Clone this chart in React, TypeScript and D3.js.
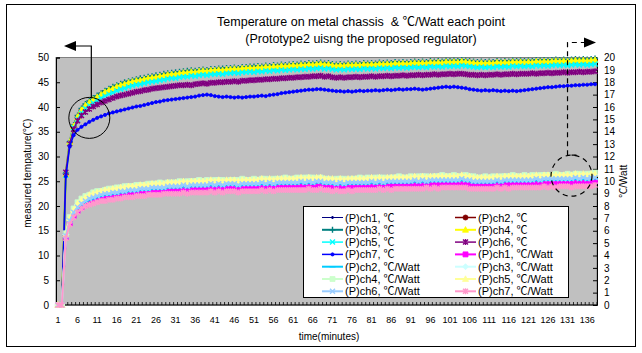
import React, { useEffect, useRef } from 'react';
import * as d3 from 'd3';

// minutes on the category axis
const minutes = Array.from({ length: 138 }, (_, i) => i + 1);
const leftTicks = [0, 5, 10, 15, 20, 25, 30, 35, 40, 45, 50];
const rightTicks = [0, 1, 2, 3, 4, 5, 6, 7, 8, 9, 10, 11, 12, 13, 14, 15, 16, 17, 18, 19, 20];

// temperature series (left axis, ℃)
const p1C = [0, 0, 26.3, 32.7, 35.9, 37.7, 39.0, 39.9, 40.5, 41.1,
  41.6, 42.1, 42.6, 43.0, 43.3, 43.7, 44.0, 44.2, 44.5, 44.7,
  44.9, 45.0, 45.2, 45.4, 45.5, 45.6, 45.8, 45.9, 46.1, 46.2,
  46.2, 46.4, 46.5, 46.5, 46.7, 46.6, 46.8, 46.9, 46.8, 47.0,
  47.0, 47.1, 47.0, 47.2, 47.2, 47.3, 47.2, 47.4, 47.4, 47.5,
  47.4, 47.6, 47.5, 47.7, 47.6, 47.8, 47.7, 47.9, 47.8, 47.9,
  48.0, 47.9, 48.1, 48.0, 48.2, 48.1, 48.2, 48.3, 48.1, 48.2,
  48.0, 47.9, 48.0, 47.9, 48.1, 48.0, 48.1, 48.0, 48.2, 48.1,
  48.2, 48.1, 48.3, 48.2, 48.3, 48.2, 48.4, 48.3, 48.4, 48.3,
  48.4, 48.5, 48.4, 48.5, 48.4, 48.6, 48.5, 48.6, 48.5, 48.7,
  48.6, 48.7, 48.6, 48.8, 48.7, 48.6, 48.5, 48.4, 48.5, 48.4,
  48.5, 48.4, 48.6, 48.5, 48.6, 48.5, 48.7, 48.6, 48.7, 48.6,
  48.7, 48.6, 48.8, 48.7, 48.8, 48.7, 48.8, 48.9, 48.8, 48.9,
  48.8, 48.9, 49.0, 48.9, 49.0, 48.9, 49.0, 49.1];
const p2C = [0, 0, 26.5, 32.8, 36.0, 37.9, 39.3, 40.2, 40.8, 41.4,
  41.9, 42.4, 42.9, 43.3, 43.6, 44.0, 44.3, 44.5, 44.8, 45.0,
  45.2, 45.3, 45.5, 45.7, 45.8, 45.9, 46.1, 46.2, 46.4, 46.5,
  46.5, 46.7, 46.8, 46.8, 47.0, 46.9, 47.1, 47.2, 47.1, 47.3,
  47.3, 47.4, 47.3, 47.5, 47.5, 47.6, 47.5, 47.7, 47.7, 47.8,
  47.7, 47.9, 47.8, 48.0, 47.9, 48.1, 48.0, 48.2, 48.1, 48.2,
  48.3, 48.2, 48.4, 48.3, 48.5, 48.4, 48.5, 48.6, 48.4, 48.5,
  48.3, 48.2, 48.3, 48.2, 48.4, 48.3, 48.4, 48.3, 48.5, 48.4,
  48.5, 48.4, 48.6, 48.5, 48.6, 48.5, 48.7, 48.6, 48.7, 48.6,
  48.7, 48.8, 48.7, 48.8, 48.7, 48.9, 48.8, 48.9, 48.8, 49.0,
  48.9, 49.0, 48.9, 49.1, 49.0, 48.9, 48.8, 48.7, 48.8, 48.7,
  48.8, 48.7, 48.9, 48.8, 48.9, 48.8, 49.0, 48.9, 49.0, 48.9,
  49.0, 48.9, 49.1, 49.0, 49.1, 49.0, 49.1, 49.2, 49.1, 49.2,
  49.1, 49.2, 49.3, 49.2, 49.3, 49.2, 49.3, 49.4];
const p3C = [0, 0, 26.6, 33.0, 36.3, 38.3, 39.7, 40.6, 41.2, 41.8,
  42.3, 42.8, 43.3, 43.7, 44.1, 44.4, 44.7, 45.0, 45.2, 45.4,
  45.6, 45.8, 45.9, 46.1, 46.2, 46.4, 46.5, 46.7, 46.8, 46.9,
  47.0, 47.1, 47.2, 47.3, 47.4, 47.3, 47.5, 47.6, 47.5, 47.7,
  47.7, 47.8, 47.8, 47.9, 47.9, 48.0, 47.9, 48.1, 48.1, 48.2,
  48.2, 48.3, 48.2, 48.4, 48.3, 48.5, 48.4, 48.6, 48.5, 48.6,
  48.7, 48.6, 48.8, 48.7, 48.9, 48.8, 48.9, 49.0, 48.8, 48.9,
  48.7, 48.6, 48.7, 48.6, 48.8, 48.7, 48.8, 48.7, 48.9, 48.8,
  48.9, 48.8, 49.0, 48.9, 49.0, 48.9, 49.1, 49.0, 49.1, 49.0,
  49.1, 49.2, 49.1, 49.2, 49.1, 49.3, 49.2, 49.3, 49.2, 49.4,
  49.3, 49.4, 49.3, 49.5, 49.4, 49.3, 49.2, 49.1, 49.2, 49.1,
  49.2, 49.1, 49.3, 49.2, 49.3, 49.2, 49.4, 49.3, 49.4, 49.3,
  49.4, 49.3, 49.5, 49.4, 49.5, 49.4, 49.5, 49.6, 49.5, 49.6,
  49.5, 49.6, 49.7, 49.6, 49.7, 49.6, 49.7, 49.8];
const p4C = [0, 0, 26.4, 32.9, 36.1, 38.0, 39.4, 40.3, 40.9, 41.5,
  42.0, 42.5, 43.0, 43.4, 43.7, 44.1, 44.4, 44.6, 44.9, 45.1,
  45.3, 45.4, 45.6, 45.8, 45.9, 46.0, 46.2, 46.3, 46.5, 46.6,
  46.6, 46.8, 46.9, 46.9, 47.1, 47.0, 47.2, 47.3, 47.2, 47.4,
  47.4, 47.5, 47.4, 47.6, 47.6, 47.7, 47.6, 47.8, 47.8, 47.9,
  47.8, 48.0, 47.9, 48.1, 48.0, 48.2, 48.1, 48.3, 48.2, 48.3,
  48.4, 48.3, 48.5, 48.4, 48.6, 48.5, 48.6, 48.7, 48.5, 48.6,
  48.4, 48.3, 48.4, 48.3, 48.5, 48.4, 48.5, 48.4, 48.6, 48.5,
  48.6, 48.5, 48.7, 48.6, 48.7, 48.6, 48.8, 48.7, 48.8, 48.7,
  48.8, 48.9, 48.8, 48.9, 48.8, 49.0, 48.9, 49.0, 48.9, 49.1,
  49.0, 49.1, 49.0, 49.2, 49.1, 49.0, 48.9, 48.8, 48.9, 48.8,
  48.9, 48.8, 49.0, 48.9, 49.0, 48.9, 49.1, 49.0, 49.1, 49.0,
  49.1, 49.0, 49.2, 49.1, 49.2, 49.1, 49.2, 49.3, 49.2, 49.3,
  49.2, 49.3, 49.4, 49.3, 49.4, 49.3, 49.4, 49.5];
const p5C = [0, 0, 26.2, 32.7, 35.8, 37.5, 38.8, 39.7, 40.3, 40.8,
  41.3, 41.8, 42.2, 42.6, 42.9, 43.3, 43.6, 43.8, 44.1, 44.3,
  44.5, 44.6, 44.8, 45.0, 45.1, 45.2, 45.4, 45.5, 45.7, 45.8,
  45.8, 46.0, 46.1, 46.1, 46.3, 46.2, 46.4, 46.5, 46.4, 46.6,
  46.6, 46.7, 46.6, 46.8, 46.8, 46.9, 46.8, 47.0, 47.0, 47.1,
  47.0, 47.2, 47.1, 47.3, 47.2, 47.4, 47.3, 47.5, 47.4, 47.5,
  47.6, 47.5, 47.7, 47.6, 47.8, 47.7, 47.8, 47.9, 47.7, 47.8,
  47.6, 47.5, 47.6, 47.5, 47.7, 47.6, 47.7, 47.6, 47.8, 47.7,
  47.8, 47.7, 47.9, 47.8, 47.9, 47.8, 48.0, 47.9, 48.0, 47.9,
  48.0, 48.1, 48.0, 48.1, 48.0, 48.2, 48.1, 48.2, 48.1, 48.3,
  48.2, 48.3, 48.2, 48.4, 48.3, 48.2, 48.1, 48.0, 48.1, 48.0,
  48.1, 48.0, 48.2, 48.1, 48.2, 48.1, 48.3, 48.2, 48.3, 48.2,
  48.3, 48.2, 48.4, 48.3, 48.4, 48.3, 48.4, 48.5, 48.4, 48.5,
  48.4, 48.5, 48.6, 48.5, 48.6, 48.5, 48.6, 48.7];
const p6C = [0, 0, 26.8, 32.6, 35.5, 37.2, 38.3, 39.0, 39.6, 40.1,
  40.5, 40.9, 41.2, 41.5, 41.8, 42.1, 42.3, 42.5, 42.7, 42.9,
  43.1, 43.2, 43.4, 43.5, 43.7, 43.8, 43.9, 44.0, 44.1, 44.2,
  44.3, 44.4, 44.4, 44.5, 44.4, 44.6, 44.7, 44.8, 44.7, 44.9,
  44.9, 45.0, 45.0, 45.1, 45.1, 45.2, 45.1, 45.3, 45.3, 45.4,
  45.4, 45.5, 45.5, 45.6, 45.6, 45.7, 45.7, 45.8, 45.8, 45.9,
  45.9, 46.0, 46.0, 46.1, 46.1, 46.2, 46.2, 46.3, 46.1, 46.2,
  46.0, 45.9, 46.0, 45.9, 46.0, 46.0, 46.1, 46.0, 46.1, 46.1,
  46.2, 46.1, 46.2, 46.2, 46.3, 46.2, 46.3, 46.3, 46.4, 46.3,
  46.4, 46.4, 46.5, 46.4, 46.5, 46.5, 46.6, 46.5, 46.6, 46.6,
  46.7, 46.6, 46.7, 46.7, 46.6, 46.5, 46.5, 46.4, 46.5, 46.4,
  46.5, 46.5, 46.6, 46.5, 46.6, 46.6, 46.7, 46.6, 46.7, 46.7,
  46.7, 46.8, 46.7, 46.8, 46.8, 46.9, 46.8, 46.9, 46.9, 47.0,
  46.9, 47.0, 47.0, 47.1, 47.0, 47.1, 47.1, 47.2];
const p7C = [0, 0, 26.0, 32.0, 34.3, 35.4, 36.0, 36.5, 37.0, 37.4,
  37.8, 38.1, 38.4, 38.7, 38.9, 39.1, 39.3, 39.5, 39.7, 39.9,
  40.1, 40.2, 40.4, 40.6, 40.8, 41.0, 41.1, 41.3, 41.4, 41.5,
  41.6, 41.7, 41.8, 41.9, 42.0, 42.1, 42.3, 42.4, 42.5, 42.4,
  42.2, 42.1, 42.0, 42.1, 42.0, 41.9, 42.0, 41.9, 42.0, 42.1,
  42.1, 42.2, 42.3, 42.2, 42.4, 42.5, 42.6, 42.8, 42.9, 43.0,
  43.1, 43.2, 43.3, 43.4, 43.5, 43.5, 43.6, 43.6, 43.5, 43.4,
  43.3, 43.2, 43.2, 43.1, 43.2, 43.1, 43.2, 43.3, 43.2, 43.3,
  43.3, 43.4, 43.3, 43.4, 43.5, 43.4, 43.5, 43.6, 43.5, 43.6,
  43.6, 43.7, 43.6, 43.5, 43.6, 43.7, 43.8, 43.9, 44.0, 44.1,
  44.0, 44.1, 44.0, 43.9, 43.8, 43.6, 43.5, 43.4, 43.3, 43.4,
  43.3, 43.4, 43.3, 43.2, 43.3, 43.2, 43.3, 43.2, 43.3, 43.4,
  43.5, 43.6, 43.7, 43.8, 43.9, 44.0, 44.0, 44.1, 44.2, 44.2,
  44.3, 44.3, 44.4, 44.4, 44.5, 44.5, 44.6, 44.6];

// ℃/Watt series (right axis)
const p1W = [0, 0, 5.5, 6.6, 7.2, 7.6, 7.9, 8.1, 8.3, 8.4,
  8.5, 8.6, 8.6, 8.7, 8.8, 8.8, 8.9, 8.9, 8.9, 9.0,
  9.0, 9.0, 9.1, 9.1, 9.1, 9.1, 9.2, 9.2, 9.2, 9.2,
  9.3, 9.3, 9.3, 9.3, 9.3, 9.4, 9.3, 9.4, 9.4, 9.4,
  9.4, 9.4, 9.4, 9.4, 9.5, 9.4, 9.5, 9.4, 9.5, 9.5,
  9.5, 9.5, 9.5, 9.5, 9.6, 9.5, 9.6, 9.5, 9.6, 9.6,
  9.6, 9.6, 9.6, 9.6, 9.7, 9.6, 9.6, 9.7, 9.6, 9.6,
  9.5, 9.6, 9.5, 9.6, 9.6, 9.6, 9.6, 9.6, 9.6, 9.6,
  9.6, 9.7, 9.6, 9.7, 9.6, 9.7, 9.7, 9.7, 9.7, 9.7,
  9.7, 9.7, 9.8, 9.7, 9.8, 9.7, 9.8, 9.8, 9.8, 9.8,
  9.8, 9.8, 9.8, 9.8, 9.8, 9.7, 9.7, 9.7, 9.7, 9.7,
  9.7, 9.7, 9.8, 9.7, 9.8, 9.8, 9.8, 9.8, 9.8, 9.8,
  9.8, 9.8, 9.9, 9.8, 9.9, 9.8, 9.9, 9.9, 9.9, 9.9,
  9.9, 9.9, 9.9, 9.9, 10.0, 9.9, 9.9, 10.0];
const p2W = [0, 0, 5.6, 6.7, 7.4, 7.8, 8.1, 8.3, 8.5, 8.6,
  8.7, 8.8, 8.9, 8.9, 9.0, 9.0, 9.1, 9.1, 9.2, 9.2,
  9.2, 9.3, 9.3, 9.3, 9.4, 9.4, 9.4, 9.4, 9.5, 9.5,
  9.5, 9.5, 9.6, 9.5, 9.6, 9.6, 9.6, 9.6, 9.6, 9.7,
  9.6, 9.7, 9.6, 9.7, 9.7, 9.7, 9.6, 9.7, 9.7, 9.7,
  9.7, 9.7, 9.8, 9.7, 9.8, 9.7, 9.8, 9.8, 9.8, 9.8,
  9.8, 9.8, 9.9, 9.8, 9.9, 9.8, 9.9, 9.9, 9.8, 9.8,
  9.8, 9.7, 9.8, 9.7, 9.8, 9.8, 9.8, 9.8, 9.8, 9.8,
  9.9, 9.8, 9.9, 9.8, 9.9, 9.9, 9.9, 9.9, 9.9, 9.9,
  9.9, 10.0, 9.9, 10.0, 9.9, 10.0, 10.0, 10.0, 10.0, 10.0,
  10.0, 10.0, 10.0, 10.1, 10.0, 10.0, 9.9, 9.9, 9.9, 9.9,
  9.9, 9.9, 10.0, 9.9, 10.0, 10.0, 10.0, 10.0, 10.0, 10.0,
  10.0, 10.0, 10.1, 10.0, 10.1, 10.1, 10.1, 10.1, 10.1, 10.1,
  10.1, 10.1, 10.2, 10.1, 10.2, 10.1, 10.2, 10.2];
const p3W = [0, 0, 5.7, 6.9, 7.6, 8.1, 8.4, 8.6, 8.8, 8.9,
  9.0, 9.1, 9.2, 9.2, 9.3, 9.3, 9.4, 9.4, 9.5, 9.5,
  9.5, 9.6, 9.6, 9.6, 9.7, 9.7, 9.7, 9.7, 9.8, 9.8,
  9.8, 9.8, 9.9, 9.8, 9.9, 9.9, 9.9, 9.9, 9.9, 10.0,
  9.9, 10.0, 9.9, 10.0, 10.0, 10.0, 9.9, 10.0, 10.0, 10.0,
  10.0, 10.0, 10.1, 10.0, 10.1, 10.0, 10.1, 10.1, 10.1, 10.1,
  10.1, 10.1, 10.2, 10.1, 10.2, 10.1, 10.2, 10.2, 10.1, 10.1,
  10.1, 10.0, 10.1, 10.0, 10.1, 10.1, 10.1, 10.1, 10.1, 10.1,
  10.2, 10.1, 10.2, 10.1, 10.2, 10.2, 10.2, 10.2, 10.2, 10.2,
  10.2, 10.3, 10.2, 10.3, 10.2, 10.3, 10.3, 10.3, 10.3, 10.3,
  10.3, 10.3, 10.3, 10.4, 10.3, 10.3, 10.2, 10.2, 10.2, 10.2,
  10.2, 10.2, 10.3, 10.2, 10.3, 10.3, 10.3, 10.3, 10.3, 10.3,
  10.3, 10.3, 10.4, 10.3, 10.4, 10.4, 10.4, 10.4, 10.4, 10.4,
  10.4, 10.4, 10.5, 10.4, 10.5, 10.4, 10.5, 10.5];
const p4W = [0, 0, 5.8, 7.1, 7.8, 8.3, 8.6, 8.8, 8.9, 9.1,
  9.2, 9.2, 9.3, 9.4, 9.4, 9.5, 9.5, 9.6, 9.6, 9.6,
  9.7, 9.7, 9.7, 9.8, 9.8, 9.8, 9.9, 9.8, 9.9, 9.9,
  9.9, 10.0, 9.9, 10.0, 10.0, 10.0, 10.1, 10.0, 10.1, 10.0,
  10.1, 10.1, 10.1, 10.0, 10.1, 10.1, 10.1, 10.2, 10.1, 10.1,
  10.2, 10.1, 10.2, 10.2, 10.1, 10.2, 10.2, 10.2, 10.3, 10.2,
  10.2, 10.3, 10.2, 10.3, 10.3, 10.3, 10.2, 10.3, 10.2, 10.2,
  10.1, 10.2, 10.2, 10.2, 10.1, 10.2, 10.2, 10.3, 10.2, 10.3,
  10.2, 10.3, 10.3, 10.3, 10.2, 10.3, 10.3, 10.4, 10.3, 10.3,
  10.4, 10.3, 10.4, 10.4, 10.4, 10.3, 10.4, 10.4, 10.5, 10.4,
  10.4, 10.5, 10.4, 10.4, 10.5, 10.4, 10.4, 10.3, 10.3, 10.4,
  10.3, 10.4, 10.3, 10.4, 10.4, 10.4, 10.5, 10.4, 10.4, 10.5,
  10.4, 10.5, 10.4, 10.5, 10.5, 10.5, 10.5, 10.6, 10.5, 10.5,
  10.6, 10.5, 10.6, 10.6, 10.5, 10.6, 10.6, 10.7];
const p5W = [0, 0, 5.7, 7.0, 7.7, 8.2, 8.5, 8.7, 8.9, 9.0,
  9.1, 9.2, 9.3, 9.3, 9.4, 9.4, 9.5, 9.5, 9.6, 9.6,
  9.6, 9.7, 9.7, 9.7, 9.8, 9.8, 9.8, 9.8, 9.9, 9.9,
  9.9, 9.9, 10.0, 9.9, 10.0, 10.0, 10.0, 10.0, 10.0, 10.1,
  10.0, 10.1, 10.0, 10.1, 10.1, 10.1, 10.0, 10.1, 10.1, 10.1,
  10.1, 10.1, 10.2, 10.1, 10.2, 10.1, 10.2, 10.2, 10.2, 10.2,
  10.2, 10.2, 10.3, 10.2, 10.3, 10.2, 10.3, 10.3, 10.2, 10.2,
  10.2, 10.1, 10.2, 10.1, 10.2, 10.2, 10.2, 10.2, 10.2, 10.2,
  10.3, 10.2, 10.3, 10.2, 10.3, 10.3, 10.3, 10.3, 10.3, 10.3,
  10.3, 10.4, 10.3, 10.4, 10.3, 10.4, 10.4, 10.4, 10.4, 10.4,
  10.4, 10.4, 10.4, 10.5, 10.4, 10.4, 10.3, 10.3, 10.3, 10.3,
  10.3, 10.3, 10.4, 10.3, 10.4, 10.4, 10.4, 10.4, 10.4, 10.4,
  10.4, 10.4, 10.5, 10.4, 10.5, 10.5, 10.5, 10.5, 10.5, 10.5,
  10.5, 10.5, 10.6, 10.5, 10.6, 10.5, 10.6, 10.6];
const p6W = [0, 0, 5.6, 6.8, 7.5, 7.9, 8.2, 8.4, 8.6, 8.7,
  8.8, 8.9, 9.0, 9.0, 9.1, 9.1, 9.2, 9.2, 9.3, 9.3,
  9.3, 9.4, 9.4, 9.4, 9.5, 9.5, 9.5, 9.5, 9.6, 9.6,
  9.6, 9.6, 9.7, 9.6, 9.7, 9.7, 9.7, 9.7, 9.7, 9.8,
  9.7, 9.8, 9.7, 9.8, 9.8, 9.8, 9.7, 9.8, 9.8, 9.8,
  9.8, 9.8, 9.9, 9.8, 9.9, 9.8, 9.9, 9.9, 9.9, 9.9,
  9.9, 9.9, 10.0, 9.9, 10.0, 9.9, 10.0, 10.0, 9.9, 9.9,
  9.9, 9.8, 9.9, 9.8, 9.9, 9.9, 9.9, 9.9, 9.9, 9.9,
  10.0, 9.9, 10.0, 9.9, 10.0, 10.0, 10.0, 10.0, 10.0, 10.0,
  10.0, 10.1, 10.0, 10.1, 10.0, 10.1, 10.1, 10.1, 10.1, 10.1,
  10.1, 10.1, 10.1, 10.2, 10.1, 10.1, 10.0, 10.0, 10.0, 10.0,
  10.0, 10.0, 10.1, 10.0, 10.1, 10.1, 10.1, 10.1, 10.1, 10.1,
  10.1, 10.1, 10.2, 10.1, 10.2, 10.2, 10.2, 10.2, 10.2, 10.2,
  10.2, 10.2, 10.3, 10.2, 10.3, 10.2, 10.3, 10.3];
const p7W = [0, 0, 5.4, 6.5, 7.1, 7.5, 7.8, 8.0, 8.1, 8.2,
  8.3, 8.4, 8.4, 8.5, 8.5, 8.6, 8.6, 8.7, 8.7, 8.7,
  8.8, 8.8, 8.8, 8.9, 8.9, 8.9, 8.9, 9.0, 9.0, 9.0,
  9.0, 9.0, 9.1, 9.0, 9.1, 9.1, 9.1, 9.1, 9.1, 9.2,
  9.1, 9.2, 9.1, 9.2, 9.2, 9.2, 9.1, 9.2, 9.2, 9.2,
  9.2, 9.2, 9.3, 9.2, 9.3, 9.2, 9.3, 9.3, 9.3, 9.3,
  9.3, 9.3, 9.3, 9.3, 9.4, 9.3, 9.3, 9.4, 9.3, 9.3,
  9.2, 9.3, 9.2, 9.2, 9.3, 9.2, 9.3, 9.3, 9.3, 9.3,
  9.3, 9.3, 9.4, 9.3, 9.4, 9.3, 9.4, 9.4, 9.4, 9.4,
  9.4, 9.4, 9.4, 9.4, 9.5, 9.4, 9.5, 9.4, 9.5, 9.5,
  9.5, 9.5, 9.5, 9.5, 9.5, 9.4, 9.4, 9.4, 9.4, 9.4,
  9.4, 9.4, 9.5, 9.4, 9.5, 9.4, 9.5, 9.5, 9.5, 9.5,
  9.5, 9.5, 9.5, 9.5, 9.6, 9.5, 9.6, 9.5, 9.6, 9.6,
  9.6, 9.5, 9.6, 9.6, 9.6, 9.6, 9.6, 9.7];

type Series = { name: string; values: number[]; axis: 'L' | 'R'; color: string; marker: string; width: number };

const series: Series[] = [
  { name: '(P)ch1, ℃', values: p1C, axis: 'L', color: '#000080', marker: 'tick', width: 1 },
  { name: '(P)ch2, ℃', values: p2C, axis: 'L', color: '#800000', marker: 'circle', width: 1.5 },
  { name: '(P)ch3, ℃', values: p3C, axis: 'L', color: '#008080', marker: 'plus', width: 2 },
  { name: '(P)ch4, ℃', values: p4C, axis: 'L', color: '#FFFF00', marker: 'triangle', width: 2 },
  { name: '(P)ch5, ℃', values: p5C, axis: 'L', color: '#00FFFF', marker: 'x', width: 1.5 },
  { name: '(P)ch6, ℃', values: p6C, axis: 'L', color: '#800080', marker: 'star', width: 1.5 },
  { name: '(P)ch7, ℃', values: p7C, axis: 'L', color: '#0000FF', marker: 'dot', width: 1.5 },
  { name: '(P)ch1, ℃/Watt', values: p1W, axis: 'R', color: '#FF00FF', marker: 'square', width: 2 },
  { name: '(P)ch2, ℃/Watt', values: p2W, axis: 'R', color: '#00CCFF', marker: 'dash', width: 2 },
  { name: '(P)ch3, ℃/Watt', values: p3W, axis: 'R', color: '#CCFFFF', marker: 'diamond', width: 2 },
  { name: '(P)ch4, ℃/Watt', values: p4W, axis: 'R', color: '#CCFFCC', marker: 'square', width: 2 },
  { name: '(P)ch5, ℃/Watt', values: p5W, axis: 'R', color: '#FFFF99', marker: 'triangle', width: 2 },
  { name: '(P)ch6, ℃/Watt', values: p6W, axis: 'R', color: '#99CCFF', marker: 'x', width: 2 },
  { name: '(P)ch7, ℃/Watt', values: p7W, axis: 'R', color: '#FF99CC', marker: 'star', width: 2 },
];

const FONT = "'Liberation Sans', Arial, 'Noto Sans CJK JP', sans-serif";

// marker glyphs, centred on 0,0
const markerPath: Record<string, { d: string; filled: boolean }> = {
  tick: { d: 'M-1.5,0H1.5M0,-1.5V1.5', filled: false },
  circle: { d: 'M-2.5,0A2.5,2.5 0 1,0 2.5,0A2.5,2.5 0 1,0 -2.5,0Z', filled: true },
  plus: { d: 'M-3,0H3M0,-3V3', filled: false },
  triangle: { d: 'M0,-3.2L3,2.4L-3,2.4Z', filled: true },
  x: { d: 'M-2.5,-2.5L2.5,2.5M-2.5,2.5L2.5,-2.5', filled: false },
  star: { d: 'M-2.5,-2.5L2.5,2.5M-2.5,2.5L2.5,-2.5M0,-3V3', filled: false },
  dot: { d: 'M-1.6,0A1.6,1.6 0 1,0 1.6,0A1.6,1.6 0 1,0 -1.6,0Z', filled: true },
  square: { d: 'M-2.5,-2.5H2.5V2.5H-2.5Z', filled: true },
  dash: { d: 'M-3,0H3', filled: false },
  diamond: { d: 'M0,-3L3,0L0,3L-3,0Z', filled: true },
};

export default function App() {
  const svgRef = useRef<SVGSVGElement>(null);

  useEffect(() => {
    const svg = d3.select(svgRef.current);
    svg.selectAll('*').remove();

    const left = 56, right = 597, top = 57.5, bottom = 305;
    const x = d3.scaleBand<number>().domain(minutes).range([left, right]);
    const cx = (m: number) => (x(m) as number) + x.bandwidth() / 2;
    const yL = d3.scaleLinear().domain([0, 50]).range([bottom, top]);
    const yR = d3.scaleLinear().domain([0, 20]).range([bottom, top]);

    // chart area
    svg.append('rect').attr('x', 0).attr('y', 0).attr('width', 642).attr('height', 353).attr('fill', '#fff');
    svg.append('rect').attr('x', 6.5).attr('y', 4.5).attr('width', 629).attr('height', 342)
      .attr('fill', 'none').attr('stroke', '#000').attr('stroke-width', 1);

    // plot area
    svg.append('rect').attr('x', left).attr('y', top).attr('width', right - left).attr('height', bottom - top)
      .attr('fill', '#C0C0C0').attr('stroke', '#808080');

    // title
    const title = svg.append('text').attr('text-anchor', 'middle').attr('font-family', FONT).attr('font-size', 12.5)
      .attr('fill', '#000').style('white-space', 'pre');
    title.append('tspan').attr('x', 361).attr('y', 26).text('Temperature on metal chassis  & ℃/Watt each point');
    title.append('tspan').attr('x', 361).attr('y', 43).text('(Prototype2 uisng the proposed regulator)');

    // axes
    const gL = svg.append('g').attr('transform', `translate(${left},0)`)
      .call(d3.axisLeft(yL).tickValues(leftTicks).tickSize(-4).tickPadding(7));
    const gR = svg.append('g').attr('transform', `translate(${right},0)`)
      .call(d3.axisRight(yR).tickValues(rightTicks).tickSize(-4).tickPadding(7));
    [gL, gR].forEach(g => {
      g.select('.domain').attr('stroke', '#000');
      g.selectAll('.tick line').attr('stroke', '#000');
      g.selectAll('text').attr('font-family', FONT).attr('font-size', 10).attr('fill', '#000');
    });

    // category axis: ticks between categories, label every 5th
    const gX = svg.append('g');
    gX.append('line').attr('x1', left).attr('x2', right).attr('y1', bottom).attr('y2', bottom).attr('stroke', '#000');
    gX.selectAll('line.tk').data([...minutes, minutes.length + 1]).join('line').attr('class', 'tk')
      .attr('x1', m => left + (m - 1) * x.bandwidth()).attr('x2', m => left + (m - 1) * x.bandwidth())
      .attr('y1', bottom).attr('y2', bottom - 3).attr('stroke', '#000').attr('stroke-width', 0.8);
    gX.selectAll('text').data(minutes.filter(m => (m - 1) % 5 === 0)).join('text')
      .attr('x', m => cx(m)).attr('y', bottom + 18).attr('text-anchor', 'middle')
      .attr('font-family', FONT).attr('font-size', 9).attr('fill', '#000').text(m => String(m));

    // axis titles
    svg.append('text').attr('transform', `translate(31,${(top + bottom) / 2 - 8}) rotate(-90)`).attr('text-anchor', 'middle')
      .attr('font-family', FONT).attr('font-size', 10).attr('fill', '#000').text('measured tempature(℃)');
    svg.append('text').attr('transform', `translate(627,${(top + bottom) / 2}) rotate(-90)`).attr('text-anchor', 'middle')
      .attr('font-family', FONT).attr('font-size', 10).attr('fill', '#000').text('℃/Watt');
    svg.append('text').attr('x', 329).attr('y', 340).attr('text-anchor', 'middle')
      .attr('font-family', FONT).attr('font-size', 10).attr('fill', '#000').text('time(minutes)');

    const drawMarker = (g: d3.Selection<SVGGElement, unknown, null, undefined>, s: Series, px: number, py: number) => {
      const mk = markerPath[s.marker];
      g.append('path').attr('d', mk.d).attr('transform', `translate(${px},${py})`)
        .attr('fill', mk.filled ? s.color : 'none').attr('stroke', s.color)
        .attr('stroke-width', mk.filled ? 0.8 : 1.4);
    };

    // series
    const plot = svg.append('g');
    series.forEach(s => {
      const y = s.axis === 'L' ? yL : yR;
      const line = d3.line<number>().x((_, i) => cx(minutes[i])).y(v => y(v));
      const g = plot.append('g');
      g.append('path').datum(s.values).attr('d', line).attr('fill', 'none')
        .attr('stroke', s.color).attr('stroke-width', s.width);
      s.values.forEach((v, i) => drawMarker(g, s, cx(minutes[i]), y(v)));
    });

    // annotations
    const circL = { x: cx(9), y: yL(37.8) };
    const circR = { x: cx(132), y: yR(10.45) };
    const r = 20.5;
    const ann = svg.append('g');
    ann.append('circle').attr('cx', circL.x).attr('cy', circL.y).attr('r', r).attr('fill', 'none').attr('stroke', '#000').attr('stroke-width', 1);
    ann.append('path').attr('d', `M${circL.x + 2},${circL.y - r}V46H75`).attr('fill', 'none').attr('stroke', '#000').attr('stroke-width', 1.2);
    ann.append('path').attr('d', 'M64,46L76,41V51Z').attr('fill', '#000');
    ann.append('circle').attr('cx', circR.x).attr('cy', circR.y).attr('r', r).attr('fill', 'none').attr('stroke', '#000')
      .attr('stroke-width', 1.2).attr('stroke-dasharray', '5 4');
    ann.append('path').attr('d', `M${circR.x + 5},${circR.y - r}H${circR.x - 4}V42.5H585`).attr('fill', 'none').attr('stroke', '#000')
      .attr('stroke-width', 1.2).attr('stroke-dasharray', '5 4');
    ann.append('path').attr('d', 'M596,42.5L584,37.5V47.5Z').attr('fill', '#000');

    // legend
    const lg = svg.append('g');
    lg.append('rect').attr('x', 303.5).attr('y', 206.5).attr('width', 265).attr('height', 91)
      .attr('fill', '#fff').attr('stroke', '#000');
    series.forEach((s, i) => {
      const col = i % 2, row = Math.floor(i / 2);
      const lx = col === 0 ? 322 : 455;
      const ly = 217.5 + row * 12.3;
      const g = lg.append('g');
      g.append('line').attr('x1', lx).attr('x2', lx + 21).attr('y1', ly).attr('y2', ly)
        .attr('stroke', s.color).attr('stroke-width', s.width);
      drawMarker(g, s, lx + 10.5, ly);
      g.append('text').attr('x', lx + 23).attr('y', ly + 4).attr('font-family', FONT).attr('font-size', 11)
        .attr('fill', '#000').text(s.name);
    });
  }, []);

  return <svg ref={svgRef} width={642} height={353} style={{ position: 'absolute', left: 0, top: 0 }} />;
}
